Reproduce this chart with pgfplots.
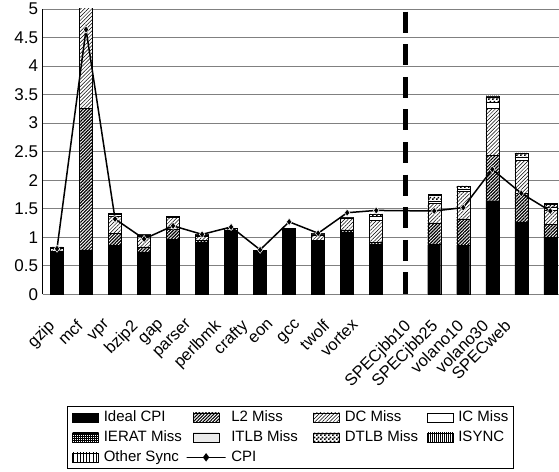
\documentclass[border=0pt]{standalone}
\usepackage{fontspec}
\setmainfont{Liberation Sans}
\usepackage{pgfplots}
\usepackage{pgfplotstable}
\pgfplotsset{compat=1.18}
\usetikzlibrary{patterns,patterns.meta}

\pgfdeclarepatternformonly{checker}{\pgfpointorigin}{\pgfqpoint{4bp}{4bp}}{\pgfqpoint{4bp}{4bp}}{%
  \pgfpathrectangle{\pgfpointorigin}{\pgfqpoint{2bp}{2bp}}%
  \pgfpathrectangle{\pgfqpoint{2bp}{2bp}}{\pgfqpoint{2bp}{2bp}}%
  \pgfusepath{fill}}

\pgfplotsset{
  myarea/.style={legend image code/.code={\draw[##1,draw=black,line width=0.5bp] (0bp,-4.5bp) rectangle (26bp,4.5bp);}},
  cpilegend/.style={legend image code/.code={\draw[##1, mark repeat=2, mark phase=2] plot coordinates {(0bp,0bp) (13bp,0bp) (26bp,0bp)};}},
}

\pgfplotstableread{
x ideal l2 dc ic ierat itlb dtlb isync other
0 0.74 0.02 0.05 0.01 0 0 0.01 0 0
1 0.78 2.48 2.20 0.05 0 0 0.05 0 0
2 0.86 0.21 0.30 0.03 0 0 0.02 0 0
3 0.73 0.10 0.19 0.02 0 0 0.01 0 0
4 0.96 0.18 0.21 0.01 0 0 0 0 0
5 0.91 0.03 0.08 0.02 0 0 0.01 0 0
6 1.12 0.01 0.02 0.01 0 0 0 0 0
7 0.74 0.01 0.02 0.01 0 0 0 0 0
8 1.15 0 0 0.01 0 0 0 0 0
9 0.93 0.02 0.09 0.02 0 0 0.01 0 0
10 1.09 0.04 0.20 0.01 0 0 0.01 0 0
11 0.88 0.04 0.37 0.07 0 0 0.05 0 0
13 0.87 0.38 0.35 0.04 0 0 0.09 0.02 0
14 0.86 0.46 0.48 0.04 0 0 0.06 0 0
15 1.64 0.80 0.82 0.10 0 0 0.10 0.02 0
16 1.27 0.50 0.58 0.05 0 0 0.07 0.01 0
17 1.00 0.23 0.25 0.04 0 0 0.06 0.01 0
}\bars

\pgfplotstableread{
x cpi
0 0.80
1 4.64
2 1.32
3 0.97
4 1.20
5 1.05
6 1.18
7 0.78
8 1.27
9 1.07
10 1.43
11 1.47
13 1.46
14 1.52
15 2.19
16 1.77
17 1.46
}\cpi

\begin{document}
\begin{tikzpicture}
\begin{axis}[
  scale only axis, width=516.5bp, height=285.3bp,
  xmin=-0.5, xmax=17.3, ymin=0, ymax=5,
  ybar stacked, bar width=13bp,
  axis x line*=bottom, axis y line*=left,
  x axis line style={draw=gray, line width=0.8bp},
  y axis line style={draw=black, line width=0.8bp},
  ytick={0,0.5,1,1.5,2,2.5,3,3.5,4,4.5,5},
  ymajorgrids, major grid style={draw=gray, line width=0.8bp},
  xtick={-0.345,0.631,1.595,2.525,3.456,4.421,5.386,6.316,7.247,8.177,9.142,10.14,11.93,12.86,13.76,14.62,15.38},
  xticklabels={gzip,mcf,vpr,bzip2,gap,parser,perlbmk,crafty,eon,gcc,twolf,vortex,SPECjbb10,SPECjbb25,volano10,volano30,SPECweb},
  major tick length=0pt,
  /pgf/number format/assume math mode=true,
  xticklabel style={font=\fontsize{16.5bp}{18bp}\selectfont, yshift=-24bp, rotate=45, anchor=north east, inner sep=0pt},
  yticklabel style={font=\fontsize{17bp}{19bp}\selectfont, xshift=-1bp},
  legend columns=4,
  legend cell align=left,
  legend style={at={(0.0474,-0.3915)}, anchor=north west, draw=black, line width=0.7bp,
    inner xsep=5bp, inner ysep=4bp, font=\fontsize{15bp}{17bp}\selectfont, row sep=6bp,
    nodes={inner sep=0pt, text height=11bp, text depth=3bp},
    /tikz/every odd column/.append style={column sep=5bp}},
]
\addplot[myarea, fill=black, draw=black, line width=0.4bp] table[x=x,y=ideal]{\bars};
\addplot[myarea, fill=white, draw=black, line width=0.4bp, postaction={pattern={Lines[angle=45,distance=2.3bp,line width=1.2bp]}}] table[x=x,y=l2]{\bars};
\addplot[myarea, fill=white, draw=black, line width=0.4bp, postaction={pattern={Lines[angle=45,distance=2.6bp,line width=0.5bp]}}] table[x=x,y=dc]{\bars};
\addplot[myarea, fill=white, draw=black, line width=0.4bp] table[x=x,y=ic]{\bars};
\addplot[myarea, fill=white, draw=none, postaction={pattern={Hatch[angle=0,distance=2bp,line width=0.8bp]}}] table[x=x,y=ierat]{\bars};
\addplot[myarea, fill=white, draw=none, postaction={pattern={Dots[distance=2bp,radius=0.45bp]}}] table[x=x,y=itlb]{\bars};
\addplot[myarea, fill=white, draw=black, line width=0.4bp, postaction={pattern=checker}] table[x=x,y=dtlb]{\bars};
\addplot[myarea, fill=white, draw=black, line width=0.4bp, postaction={pattern={Lines[angle=90,distance=2bp,line width=0.8bp]}}] table[x=x,y=isync]{\bars};
\addplot[myarea, fill=white, draw=none, postaction={pattern={Lines[angle=90,distance=3.2bp,line width=0.6bp]}}] table[x=x,y=other]{\bars};
\addlegendimage{cpilegend, black, line width=1.5bp, mark=diamond*, mark size=3bp}
\legend{\makebox[82bp][l]{Ideal CPI},\makebox[82bp][l]{L2 Miss},\makebox[82bp][l]{DC Miss},IC Miss,
  \makebox[82bp][l]{IERAT Miss},\makebox[82bp][l]{ITLB Miss},\makebox[82bp][l]{DTLB Miss},ISYNC,
  \makebox[82bp][l]{Other Sync},CPI}
\end{axis}
\begin{axis}[
  scale only axis, width=516.5bp, height=285.3bp,
  xmin=-0.5, xmax=17.3, ymin=0, ymax=5, hide axis]
\addplot[black, line width=5bp, dash pattern=on 21bp off 11.6bp, dash phase=29.9bp] coordinates {(12,5) (12,0)};
\addplot[black, line width=1.5bp, mark=diamond*, mark size=3.6bp, mark options={solid, fill=black, draw=white, line width=0.5bp}] table[x=x,y=cpi]{\cpi};
\end{axis}
\pgfresetboundingbox
\path (-42.5bp,-177.7bp) rectangle (516.5bp,294.3bp);
\end{tikzpicture}
\end{document}
